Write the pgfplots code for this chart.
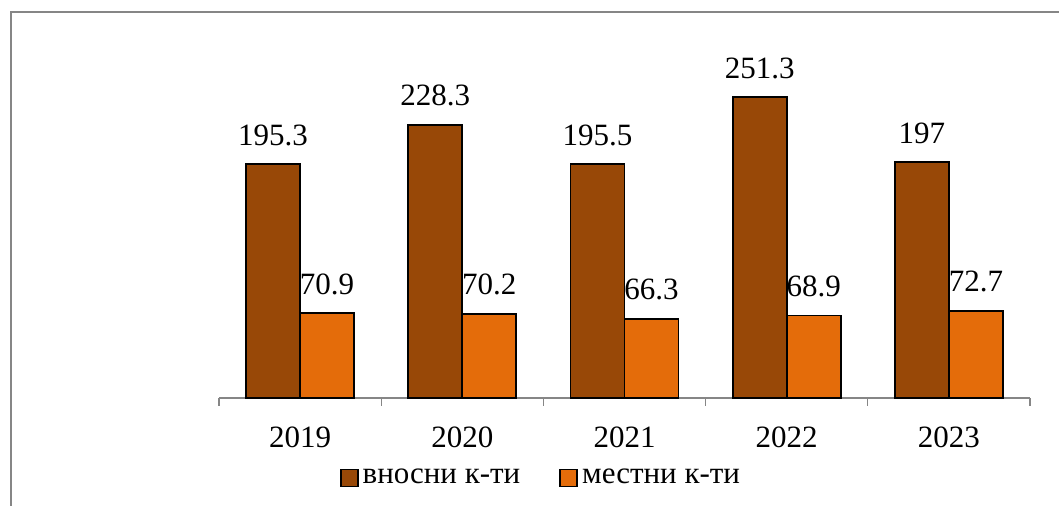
\documentclass[border=0pt]{standalone}
\usepackage{pgfplots}
\pgfplotsset{compat=1.18}
\usepackage{fontspec}
\setmainfont{Liberation Serif}
\newcommand\f{\fontsize{15.5}{18}\selectfont}
\definecolor{cbrown}{RGB}{152,72,7}
\definecolor{corange}{RGB}{228,108,10}
\definecolor{cgray}{RGB}{134,134,134}
\begin{document}
\begin{tikzpicture}
\useasboundingbox (0,0) rectangle (529.5pt,253pt);
\draw[cgray, line width=0.6pt] (5.5pt,-2pt) -- (5.5pt,247pt) -- (532pt,247pt);
\begin{axis}[
  at={(109.5pt,54pt)}, anchor=south west,
  scale only axis, width=405.5pt, height=179.5pt,
  xmin=-0.5, xmax=4.5, ymin=0, ymax=300,
  axis y line=none, axis x line*=bottom,
  x axis line style={cgray, line width=0.6pt},
  xtick={0,1,2,3,4},
  xticklabels={2019,2020,2021,2022,2023},
  major tick length=0pt,
  minor xtick={-0.5,0.5,1.5,2.5,3.5,4.5},
  minor tick length=4pt,
  tick align=outside,
  minor tick style={cgray, line width=0.6pt},
  xticklabel style={font=\f, yshift=-11pt},
  clip=false,
  /pgf/number format/assume math mode=true,
  nodes near coords,
  every node near coord/.append style={font=\f, anchor=base, yshift=9.5pt, text=black},
  legend style={at={(axis description cs:0.149,-0.223)}, anchor=west, draw=none, inner sep=0pt, outer sep=0pt,
    legend columns=2, font=\f,
    /tikz/every even column/.append style={column sep=17.5pt}},
  legend image code/.code={\draw[#1, line width=0.9pt] (0pt,-4.25pt) rectangle (8.5pt,4.25pt);},
  legend cell align=left,
]
\addplot[ybar, bar width=27pt, bar shift=-13.5pt, fill=cbrown, draw=black, line width=0.9pt,
  every node near coord/.append style={xshift=-13.5pt}]
  coordinates {(0,195.3) (1,228.3) (2,195.5) (3,251.3) (4,197)};
\addplot[ybar, bar width=27pt, bar shift=13.5pt, fill=corange, draw=black, line width=0.9pt,
  every node near coord/.append style={xshift=13.5pt}]
  coordinates {(0,70.9) (1,70.2) (2,66.3) (3,68.9) (4,72.7)};
\legend{вносни к-ти, местни к-ти}
\end{axis}
\end{tikzpicture}
\end{document}
